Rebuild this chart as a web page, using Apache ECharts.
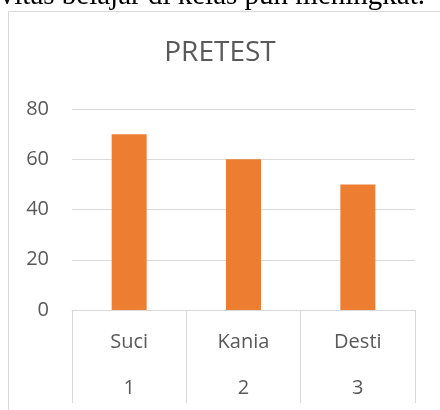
<!DOCTYPE html>
<html lang="en">

<head>
  <meta charset="UTF-8">
  <title>PRETEST</title>
  <style>
    html, body { margin: 0; padding: 0; background: #fff; }
    #chart { width: 440px; height: 410px; }
  </style>
</head>

<body>
  <div id="chart"></div>

  <script src="https://cdn.jsdelivr.net/npm/echarts@6/dist/echarts.min.js"></script>
  <script>
    var names = ['Suci', 'Kania', 'Desti'];
    var numbers = ['1', '2', '3'];
    var scores = [70, 60, 50];
    var yTicks = { min: 0, max: 80, interval: 20 };

    var chart = echarts.init(document.getElementById('chart'));

    var option = {
      animation: false,
      color: ['#ED7D31'],
      title: {
        text: 'PRETEST',
        left: 'center',
        top: 34,
        textStyle: {
          fontFamily: 'Open Sans',
          fontSize: 28,
          fontWeight: 'normal',
          color: '#595959'
        }
      },
      graphic: [
        {
          // the frame round the chart
          type: 'rect',
          shape: { x: 8.5, y: 11.5, width: 460, height: 420 },
          style: { fill: 'none', stroke: '#d9d9d9', lineWidth: 1 },
          silent: true
        },
        {
          // end of the sentence above the chart
          type: 'text',
          right: 15,
          top: -18,
          style: {
            text: 'ivitas belajar di kelas pun meningkat.',
            fontFamily: 'Liberation Serif',
            fontSize: 29,
            fill: '#000'
          },
          silent: true
        }
      ],
      grid: {
        left: 72,
        right: 25,
        top: 109,
        bottom: 100
      },
      xAxis: {
        type: 'category',
        data: names,
        axisLine: { lineStyle: { color: '#d9d9d9', width: 1 } },
        axisTick: {
          show: true,
          length: 93,
          lineStyle: { color: '#d9d9d9', width: 1 }
        },
        axisLabel: {
          margin: 9,
          formatter: function (v, i) {
            return '{a|' + v + '}\n{a|' + numbers[i] + '}';
          },
          rich: {
            a: {
              fontFamily: 'Open Sans',
              fontSize: 20,
              lineHeight: 46,
              color: '#595959'
            }
          }
        }
      },
      yAxis: {
        type: 'value',
        min: yTicks.min,
        max: yTicks.max,
        interval: yTicks.interval,
        axisLine: { show: false },
        axisTick: { show: false },
        axisLabel: {
          margin: 23,
          fontFamily: 'Open Sans',
          fontSize: 20,
          color: '#595959'
        },
        splitLine: { lineStyle: { color: '#d9d9d9', width: 1 } }
      },
      series: [
        {
          name: 'PRETEST',
          type: 'bar',
          barWidth: 35,
          data: scores
        }
      ]
    };

    chart.setOption(option);
  </script>
</body>

</html>
